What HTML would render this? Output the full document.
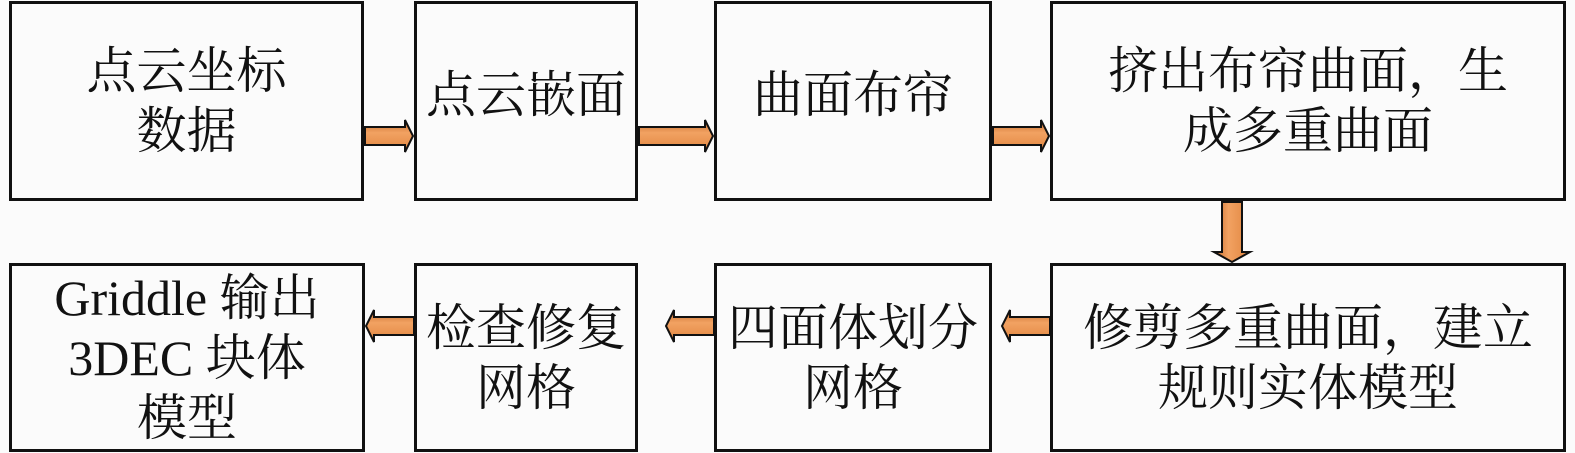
<!DOCTYPE html>
<html><head><meta charset="utf-8"><style>
body{margin:0;width:1575px;height:453px;background:#fbfbfb;position:relative;overflow:hidden;font-family:"Liberation Serif","Noto Serif CJK SC",serif;}
.b{position:absolute;border:3px solid #111;box-sizing:border-box;background:#fbfbfb;display:flex;align-items:center;justify-content:center;text-align:center;font-size:50px;line-height:60px;color:#111;}
svg{position:absolute;left:0;top:0}
</style></head><body>
<div class="b" style="left:9px;top:1px;width:355px;height:200px">点云坐标<br>数据</div>
<div class="b" style="left:414px;top:1px;width:224px;height:200px;padding-bottom:12px">点云嵌面</div>
<div class="b" style="left:714px;top:1px;width:278px;height:200px;padding-bottom:12px">曲面布帘</div>
<div class="b" style="left:1050px;top:1px;width:516px;height:200px">挤出布帘曲面，生<br>成多重曲面</div>
<div class="b" style="left:9px;top:263px;width:356px;height:189px">Griddle 输出<br>3DEC 块体<br>模型</div>
<div class="b" style="left:414px;top:263px;width:224px;height:189px">检查修复<br>网格</div>
<div class="b" style="left:714px;top:263px;width:278px;height:189px">四面体划分<br>网格</div>
<div class="b" style="left:1050px;top:263px;width:516px;height:189px">修剪多重曲面，建立<br>规则实体模型</div>
<svg width="1575" height="453">
<defs><linearGradient id="g" x1="0" y1="0" x2="0" y2="1"><stop offset="0" stop-color="#c46a2c"/><stop offset=".4" stop-color="#f2a262"/><stop offset="1" stop-color="#e0853f"/></linearGradient>
<linearGradient id="gv" x1="0" y1="0" x2="1" y2="0"><stop offset="0" stop-color="#c46a2c"/><stop offset=".4" stop-color="#f2a262"/><stop offset="1" stop-color="#e0853f"/></linearGradient></defs>
<g stroke="#111" stroke-width="2" fill="url(#g)">
<path d="M365,127 H405 V120 L413,136 L405,152 V145 H365 Z"/>
<path d="M639,127 H705 V120 L713,136 L705,152 V145 H639 Z"/>
<path d="M993,127 H1041 V120 L1049,136 L1041,152 V145 H993 Z"/>
<path d="M414,317 H374 V310 L366,326 L374,342 V335 H414 Z"/>
<path d="M714,317 H674 V310 L666,326 L674,342 V335 H714 Z"/>
<path d="M1050,317 H1010 V310 L1002,326 L1010,342 V335 H1050 Z"/>
<path fill="url(#gv)" d="M1222,202 V252 H1214 L1232,262 L1250,252 H1242 V202 Z"/>
</g></svg>
</body></html>
